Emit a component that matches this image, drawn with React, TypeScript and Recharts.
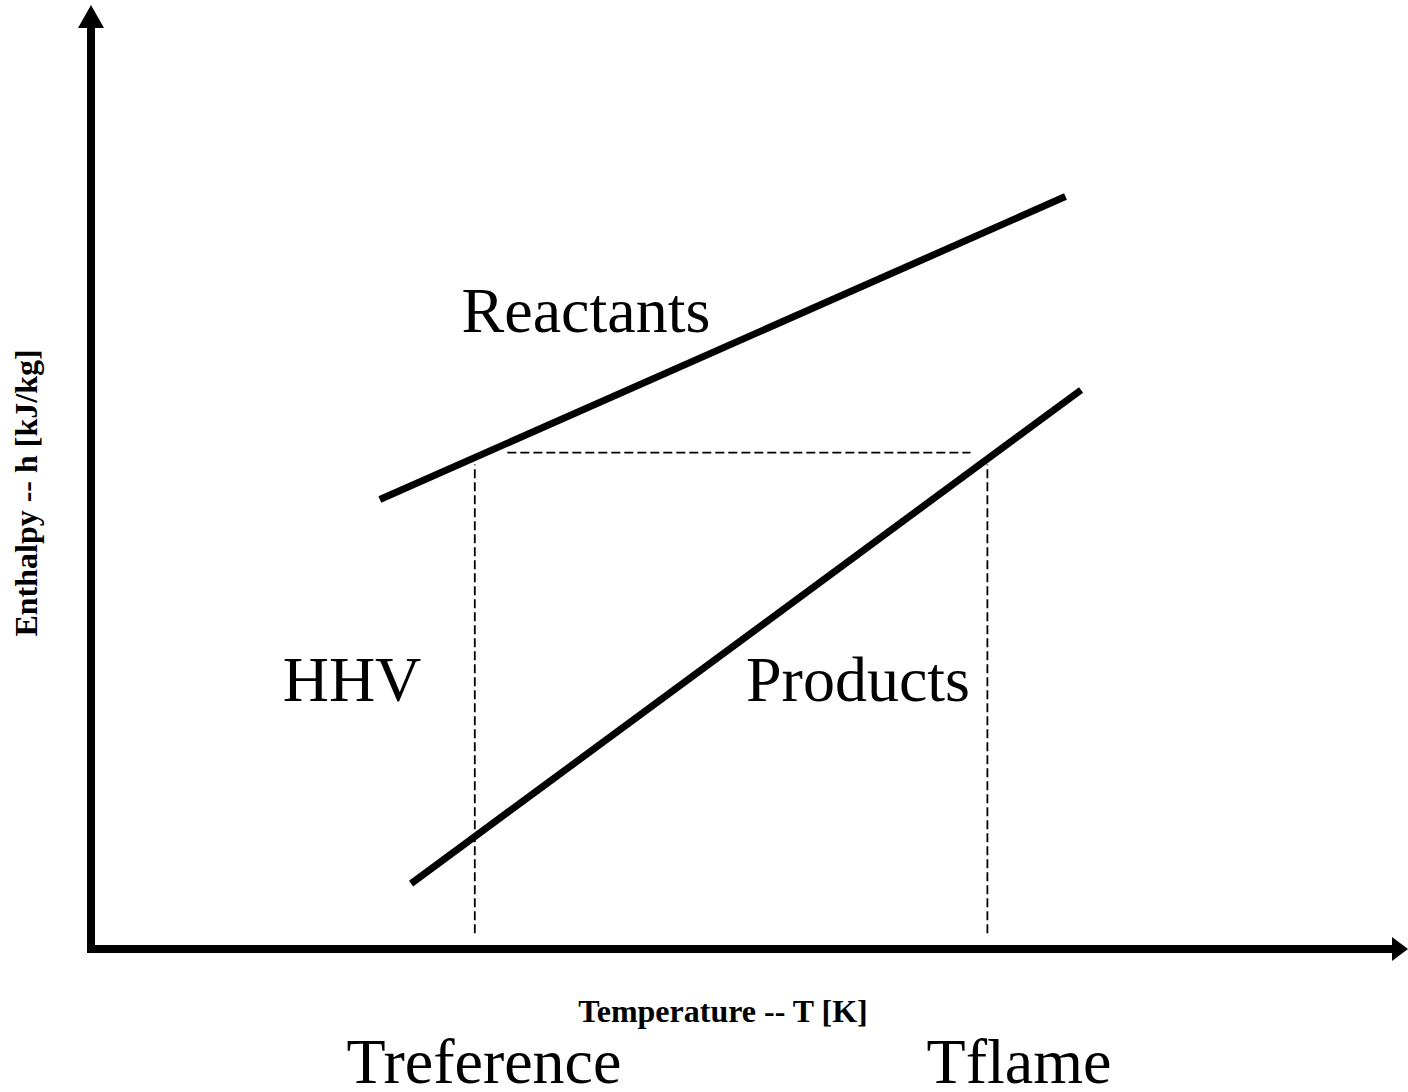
import { LineChart, Line, XAxis, YAxis, ReferenceLine, ReferenceDot } from "recharts"

// arbitrary units, no ticks on the original sketch
const reactants = [
  { T: 22.2, h: 48.8 },
  { T: 74.9, h: 81.7 },
]
const products = [
  { T: 24.6, h: 7.1 },
  { T: 76.1, h: 60.7 },
]
const tReference = 29.5
const tFlame = 68.9
const hhvLevel = 53.9
const hhvStart = 32.0
const hhvEnd = 67.6
const dashBottom = 1.7
const dashTop = 52.6

const serif = "'Liberation Serif', 'Times New Roman', serif"

const ArrowUp = (props: any) => {
  const { cx, cy } = props
  return <polygon points={`${cx - 13},${cy} ${cx + 13},${cy} ${cx},${cy - 23}`} fill="#000" />
}

const ArrowRight = (props: any) => {
  const { cx, cy } = props
  return <polygon points={`${cx},${cy - 12} ${cx},${cy + 12} ${cx + 16},${cy}`} fill="#000" />
}

function App() {
  return (
    <div style={{ position: "absolute", left: 0, top: 0, background: "#fff" }}>
      <LineChart width={1408} height={1092} margin={{ top: 28, right: 16, left: 91, bottom: 143 }}>
        <XAxis type="number" dataKey="T" domain={[0, 100]} allowDataOverflow hide />
        <YAxis type="number" dataKey="h" domain={[0, 100]} allowDataOverflow hide />

        {/* axes with arrow heads */}
        <ReferenceLine
          segment={[{ x: 0, y: 0 }, { x: 100, y: 0 }]}
          stroke="#000"
          strokeWidth={8}
          strokeLinecap="square"
          ifOverflow="visible"
        />
        <ReferenceLine
          segment={[{ x: 0, y: 0 }, { x: 0, y: 100 }]}
          stroke="#000"
          strokeWidth={8}
          strokeLinecap="square"
          ifOverflow="visible"
        />
        <ReferenceDot x={0} y={100} r={0} ifOverflow="visible" shape={ArrowUp} />
        <ReferenceDot x={100} y={0} r={0} ifOverflow="visible" shape={ArrowRight} />

        <ReferenceLine
          segment={[{ x: hhvStart, y: hhvLevel }, { x: hhvEnd, y: hhvLevel }]}
          stroke="#000"
          strokeWidth={1.8}
          strokeDasharray="9 4"
        />
        <ReferenceLine
          segment={[{ x: tReference, y: dashBottom }, { x: tReference, y: dashTop }]}
          stroke="#000"
          strokeWidth={1.8}
          strokeDasharray="9 4"
        />
        <ReferenceLine
          segment={[{ x: tFlame, y: dashBottom }, { x: tFlame, y: dashTop }]}
          stroke="#000"
          strokeWidth={1.8}
          strokeDasharray="9 4"
        />

        <Line data={reactants} dataKey="h" type="linear" stroke="#000" strokeWidth={7} dot={false} isAnimationActive={false} />
        <Line data={products} dataKey="h" type="linear" stroke="#000" strokeWidth={7} dot={false} isAnimationActive={false} />

        <text x={586} y={332} textAnchor="middle" fontFamily={serif} fontSize={64} fill="#000">Reactants</text>
        <text x={858} y={701} textAnchor="middle" fontFamily={serif} fontSize={64} fill="#000">Products</text>
        <text x={352} y={701} textAnchor="middle" fontFamily={serif} fontSize={64} fill="#000">HHV</text>
        <text x={484} y={1083} textAnchor="middle" fontFamily={serif} fontSize={64} fill="#000">Treference</text>
        <text x={1019} y={1083} textAnchor="middle" fontFamily={serif} fontSize={64} fill="#000">Tflame</text>
        <text x={723} y={1022} textAnchor="middle" fontFamily={serif} fontSize={32} fontWeight="bold" fill="#000">
          Temperature -- T [K]
        </text>
        <text
          x={37}
          y={493}
          transform="rotate(-90 37 493)"
          textAnchor="middle"
          fontFamily={serif}
          fontSize={32}
          fontWeight="bold"
          fill="#000"
        >
          Enthalpy -- h [kJ/kg]
        </text>
      </LineChart>
    </div>
  )
}

export default App
